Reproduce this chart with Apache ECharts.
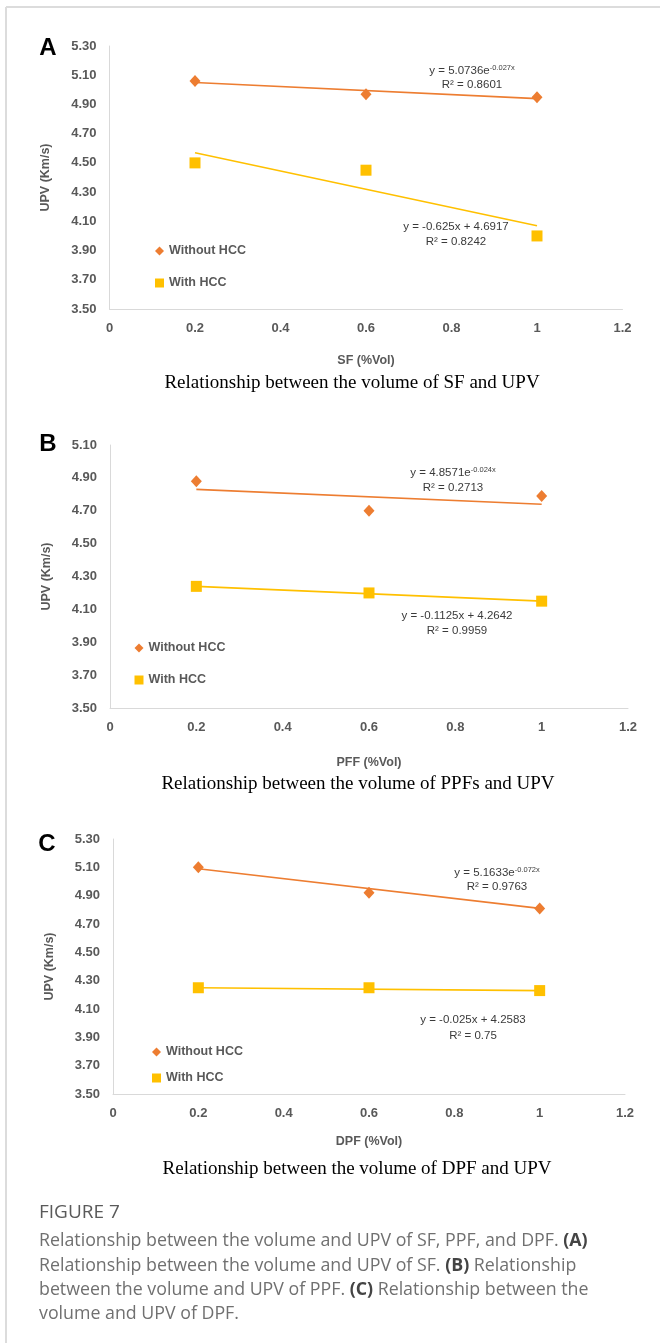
<!DOCTYPE html>
<html>
<head>
<meta charset="utf-8">
<script src="https://cdn.jsdelivr.net/npm/echarts@6/dist/echarts.min.js"></script>
<style>
html,body{margin:0;padding:0;background:#fff;}
#chart{width:660px;height:1343px;}
</style>
</head>
<body>
<div id="chart"></div>
<script>
// ---------- data ----------
const xValues = [0.2, 0.6, 1.0];
const trendX = [0.2, 1.0];
const seriesNames = ['Without HCC', 'With HCC'];

const sfWithout = [5.06, 4.97, 4.95];
const sfWith = [4.50, 4.45, 4.00];
const sfTrendWithout = [5.05, 4.94];
const sfTrendWith = [4.57, 4.07];

const pffWithout = [4.88, 4.70, 4.79];
const pffWith = [4.24, 4.20, 4.15];
const pffTrendWithout = [4.83, 4.74];
const pffTrendWith = [4.24, 4.15];

const dpfWithout = [5.10, 4.92, 4.81];
const dpfWith = [4.25, 4.25, 4.23];
const dpfTrendWithout = [5.09, 4.81];
const dpfTrendWith = [4.25, 4.23];

const panelLetters = ['A', 'B', 'C'];
const xAxisNames = ['SF (%Vol)', 'PFF (%Vol)', 'DPF (%Vol)'];
const yAxisName = 'UPV (Km/s)';
const yMins = [3.5, 3.5, 3.5];
const yMaxs = [5.3, 5.1, 5.3];
const subtitles = [
  'Relationship between the volume of SF and UPV',
  'Relationship between the volume of PPFs and UPV',
  'Relationship between the volume of DPF and UPV'
];
const eqWithout = [['y = 5.0736e', '-0.027x', 'R² = 0.8601'], ['y = 4.8571e', '-0.024x', 'R² = 0.2713'], ['y = 5.1633e', '-0.072x', 'R² = 0.9763']];
const eqWith = [['y = -0.625x + 4.6917', 'R² = 0.8242'], ['y = -0.1125x + 4.2642', 'R² = 0.9959'], ['y = -0.025x + 4.2583', 'R² = 0.75']];
const captionTitle = 'FIGURE 7';

// ---------- layout / style ----------
const ORANGE = '#ED7D31';
const YELLOW = '#FFC000';
const TXT = '#595959';
const EQ = '#3a3a3a';
const FONT = '"Liberation Sans", Arial, sans-serif';
const grids = [
  {left: 109.5, top: 46, width: 513, height: 263},
  {left: 110, top: 445, width: 518, height: 263},
  {left: 113, top: 839, width: 512, height: 255}
];
const xNameGaps = [45, 48, 41];
const legendPos = [
  {left: 150, top: 239, gap: 18},
  {left: 129.5, top: 636, gap: 18},
  {left: 147, top: 1040, gap: 12}
];
const letterPos = [[48, 48], [48, 444], [47, 844]];
const subtitlePos = [[352, 383], [358, 784], [357, 1169]];
const eqWithoutPos = [[472, 70, 85], [453, 472, 488], [497, 872, 887]];
const eqWithPos = [[456, 227, 242], [457, 616, 631], [473, 1020, 1036]];

const withoutData = [sfWithout, pffWithout, dpfWithout];
const withData = [sfWith, pffWith, dpfWith];
const trendWithoutData = [sfTrendWithout, pffTrendWithout, dpfTrendWithout];
const trendWithData = [sfTrendWith, pffTrendWith, dpfTrendWith];

const pair = (xs, ys) => xs.map((x, i) => [x, ys[i]]);

const option = {
  animation: false,
  backgroundColor: '#fff',
  grid: grids.map(g => Object.assign({containLabel: false}, g)),
  xAxis: grids.map((g, i) => ({
    gridIndex: i, type: 'value', min: 0, max: 1.2, interval: 0.2,
    name: xAxisNames[i], nameLocation: 'middle', nameGap: xNameGaps[i],
    nameTextStyle: {color: TXT, fontSize: 12.5, fontWeight: 'bold', fontFamily: FONT},
    axisLine: {show: true, lineStyle: {color: '#d9d9d9', width: 1}},
    axisTick: {show: false},
    splitLine: {show: false},
    axisLabel: {color: TXT, fontSize: 13, fontWeight: 'bold', fontFamily: FONT, margin: 13}
  })),
  yAxis: grids.map((g, i) => ({
    gridIndex: i, type: 'value', min: yMins[i], max: yMaxs[i], interval: 0.1,
    name: yAxisName, nameLocation: 'middle', nameGap: 57, nameRotate: 90,
    nameTextStyle: {color: TXT, fontSize: 12.5, fontWeight: 'bold', fontFamily: FONT},
    axisLine: {show: true, lineStyle: {color: '#d9d9d9', width: 1}},
    axisTick: {show: false},
    splitLine: {show: false},
    axisLabel: {
      color: TXT, fontSize: 13, fontWeight: 'bold', fontFamily: FONT, margin: 13,
      formatter: v => {
        const k = (v - yMins[i]) / 0.2;
        return Math.abs(k - Math.round(k)) < 1e-6 ? v.toFixed(2) : '';
      }
    }
  })),
  legend: legendPos.map(p => ({
    left: p.left, top: p.top, orient: 'vertical', itemGap: p.gap,
    itemWidth: 9, itemHeight: 9, selectedMode: false,
    textStyle: {color: TXT, fontSize: 12.5, fontWeight: 'bold', fontFamily: FONT, lineHeight: 14},
    data: [{name: seriesNames[0], icon: 'diamond'}, {name: seriesNames[1], icon: 'rect'}]
  })),
  series: [],
  graphic: []
};

for (let i = 0; i < 3; i++) {
  option.series.push({
    type: 'line', xAxisIndex: i, yAxisIndex: i, data: pair(trendX, trendWithoutData[i]),
    showSymbol: false, symbol: 'none', silent: true, lineStyle: {color: ORANGE, width: 1.6}, z: 1
  });
  option.series.push({
    type: 'line', xAxisIndex: i, yAxisIndex: i, data: pair(trendX, trendWithData[i]),
    showSymbol: false, symbol: 'none', silent: true, lineStyle: {color: YELLOW, width: 1.6}, z: 1
  });
  option.series.push({
    name: seriesNames[0], type: 'scatter', xAxisIndex: i, yAxisIndex: i,
    data: pair(xValues, withoutData[i]), symbol: 'diamond', symbolSize: [11, 12],
    itemStyle: {color: ORANGE, opacity: 1}, z: 3
  });
  option.series.push({
    name: seriesNames[1], type: 'scatter', xAxisIndex: i, yAxisIndex: i,
    data: pair(xValues, withData[i]), symbol: 'rect', symbolSize: 11,
    itemStyle: {color: YELLOW, opacity: 1}, z: 3
  });

  // panel letter
  option.graphic.push({
    type: 'text', x: letterPos[i][0], y: letterPos[i][1],
    style: {text: panelLetters[i], font: 'bold 24px ' + FONT, fill: '#000', textAlign: 'center', textVerticalAlign: 'middle'}
  });
  // subtitle
  option.graphic.push({
    type: 'text', x: subtitlePos[i][0], y: subtitlePos[i][1],
    style: {text: subtitles[i], font: '19px "Liberation Serif", "Times New Roman", serif', fill: '#000',
            textAlign: 'center', textVerticalAlign: 'middle'}
  });
  // equation without
  option.graphic.push({
    type: 'text', x: eqWithoutPos[i][0], y: eqWithoutPos[i][1],
    style: {
      text: '{b|' + eqWithout[i][0] + '}{s|' + eqWithout[i][1] + '}',
      textAlign: 'center', textVerticalAlign: 'middle',
      rich: {
        b: {fontSize: 11.5, fontFamily: FONT, fill: EQ, lineHeight: 13, verticalAlign: 'bottom'},
        s: {fontSize: 7.5, fontFamily: FONT, fill: EQ, lineHeight: 13, verticalAlign: 'top'}
      }
    }
  });
  option.graphic.push({
    type: 'text', x: eqWithoutPos[i][0], y: eqWithoutPos[i][2],
    style: {text: eqWithout[i][2], font: '11.5px ' + FONT, fill: EQ, textAlign: 'center', textVerticalAlign: 'middle'}
  });
  // equation with
  option.graphic.push({
    type: 'text', x: eqWithPos[i][0], y: eqWithPos[i][1],
    style: {text: eqWith[i][0], font: '11.5px ' + FONT, fill: EQ, textAlign: 'center', textVerticalAlign: 'middle'}
  });
  option.graphic.push({
    type: 'text', x: eqWithPos[i][0], y: eqWithPos[i][2],
    style: {text: eqWith[i][1], font: '11.5px ' + FONT, fill: EQ, textAlign: 'center', textVerticalAlign: 'middle'}
  });
}

// frame lines
option.graphic.push({type: 'line', shape: {x1: 6, y1: 7, x2: 660, y2: 7}, style: {stroke: '#dcdcdc', lineWidth: 2}});
option.graphic.push({type: 'line', shape: {x1: 6, y1: 7, x2: 6, y2: 1343}, style: {stroke: '#dcdcdc', lineWidth: 2}});

// caption
const CAP_FONT = '"Open Sans", "Noto Sans", sans-serif';
option.graphic.push({
  type: 'text', left: 39, top: 1203,
  style: {text: captionTitle, font: '500 19px ' + CAP_FONT, fill: '#5a5a5a'}
});
option.graphic.push({
  type: 'text', left: 39, top: 1229,
  style: {
    text: 'Relationship between the volume and UPV of SF, PPF, and DPF. {k|(A)}\n' +
          'Relationship between the volume and UPV of SF. {k|(B)} Relationship\n' +
          'between the volume and UPV of PPF. {k|(C)} Relationship between the\n' +
          'volume and UPV of DPF.',
    font: '17.8px ' + CAP_FONT, fill: '#707070', lineHeight: 24.3,
    rich: {k: {font: 'bold 17.8px ' + CAP_FONT, fill: '#444', lineHeight: 24.3}}
  }
});

const chart = echarts.init(document.getElementById('chart'), null, {renderer: 'canvas'});
chart.setOption(option);
</script>
</body>
</html>
